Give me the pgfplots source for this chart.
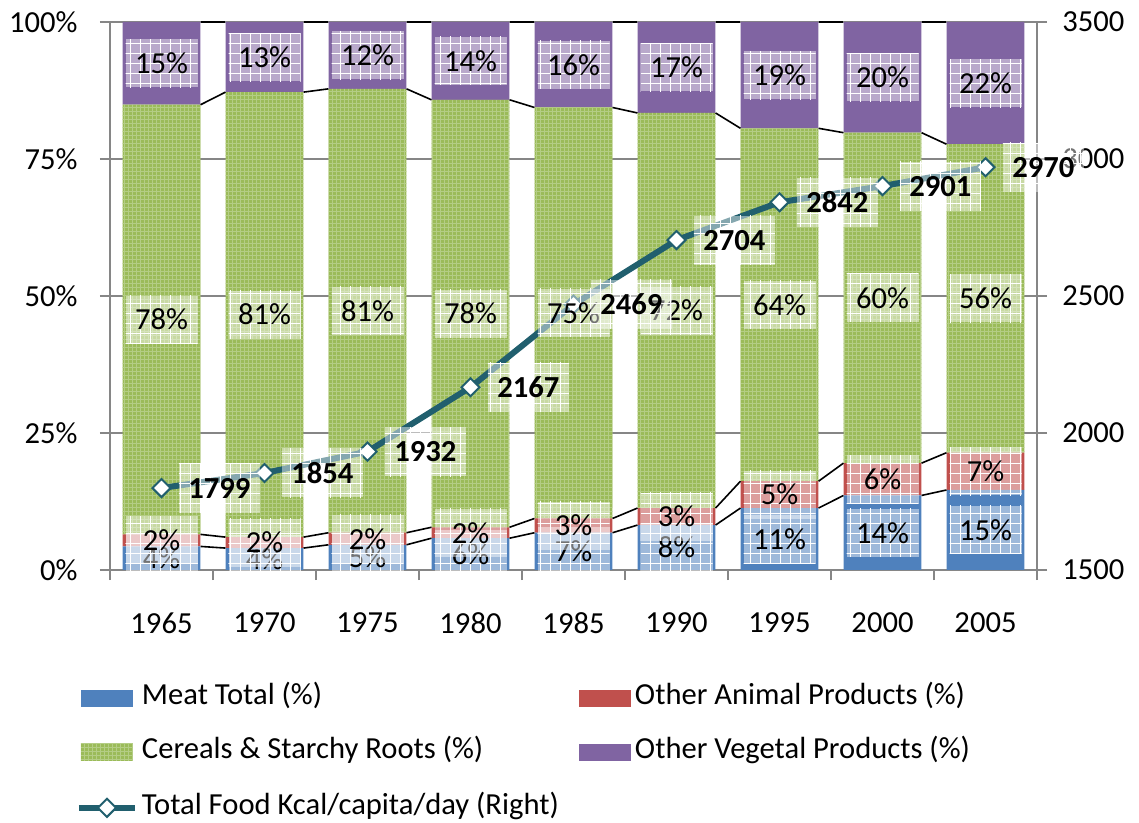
\documentclass[border=0pt]{standalone}
\usepackage{pgfplots}
\pgfplotsset{compat=1.18}
\usepackage{pgfplotstable}
\usepackage{fontspec}
\setmainfont{Carlito}
\usetikzlibrary{patterns.meta}

\definecolor{meat}{HTML}{4F81BD}
\definecolor{oth}{HTML}{C0504D}
\definecolor{cer}{HTML}{9BBB59}
\definecolor{cerlight}{HTML}{B4CD85}
\definecolor{veg}{HTML}{8064A2}
\definecolor{kcal}{HTML}{215F6E}
\definecolor{gridgray}{HTML}{868686}

\newcommand\lblfont{\fontsize{15.3}{18}\selectfont}

\pgfplotstableread{
x year meat oth cer veg kcal
0 1965 4.3 2.2 78.4 15.1 1799
1 1970 4.0 2.0 81.2 12.8 1854
2 1975 4.6 2.2 81.0 12.2 1932
3 1980 5.8 2.0 78.0 14.2 2167
4 1985 6.8 2.6 75.0 15.6 2469
5 1990 8.2 3.1 72.1 16.6 2704
6 1995 11.3 4.9 64.4 19.4 2842
7 2000 13.6 5.9 60.3 20.2 2901
8 2005 14.6 6.8 56.3 22.3 2970
}\data

\pgfplotsset{
  myaxis/.style={at={(0,0)}, anchor=south west, scale only axis,
    width=463.5pt, height=274pt, xmin=-0.5, xmax=8.5,
    /pgf/number format/assume math mode=true},
  kcalline/.style={color=kcal, line width=3pt, mark=square*, mark size=3.2pt,
    mark options={rotate=45, fill=white, draw=kcal, line width=1pt}},
  barlegend/.style={legend image code/.code={\fill[##1] (1pt,-4.25pt) rectangle (27pt,4.25pt);}},
  kcallegend/.style={legend image code/.code={%
    \draw[kcal, line width=3pt] (0pt,0pt) -- (28pt,0pt);
    \draw[kcal, fill=white, line width=1pt, rotate around={45:(14pt,0pt)}]
      (10.8pt,-3.2pt) rectangle (17.2pt,3.2pt);}},
}
\tikzset{
  lblbox/.style={fill=white, fill opacity=0.45, text opacity=1, inner sep=0pt,
    minimum width=36pt, minimum height=24pt, font=\lblfont, text=black,
    postaction={pattern={Hatch[distance=5pt, line width=0.35pt]}, pattern color=white}},
}

\begin{document}
\begin{tikzpicture}
% ---------- bars (left axis) ----------
\begin{axis}[myaxis,
  ymin=0, ymax=100,
  ybar stacked, bar width=0.757,
  xtick={0,...,8},
  xticklabels={1965,1970,1975,1980,1985,1990,1995,2000,2005},
  minor xtick={-0.5,0.5,...,8.5},
  major x tick style={draw=none},
  minor x tick style={draw=gridgray, line width=0.9pt},
  minor tick length=5pt,
  ytick={0,25,50,75,100},
  yticklabel={\pgfmathprintnumber{\tick}\%},
  tick align=outside, major tick length=5pt,
  y tick style={draw=gridgray, line width=0.9pt},
  ymajorgrids, major grid style={gridgray, line width=0.9pt},
  axis x line*=bottom, axis y line*=left,
  axis line style={gridgray, line width=0.9pt},
  ticklabel style={font=\lblfont, text=black, inner sep=0pt},
  xticklabel style={yshift=-16pt},
  yticklabel style={xshift=-11pt},
  barlegend,
  legend columns=2,
  legend cell align=left,
  legend style={at={(-0.0367,-0.219)}, anchor=north west, draw=none, fill=none,
    inner sep=0pt, outer sep=0pt, font=\lblfont, row sep=18.45pt,
    nodes={inner sep=0pt, text height=0.64em, text depth=0pt},
    /tikz/every odd column/.append style={column sep=2pt},
    /tikz/every even column/.append style={column sep=10pt}},
]
\addplot[fill=meat, draw=none] table[x=x, y=meat]{\data};
\addlegendentry{Meat Total (\%)}
\addplot[fill=oth, draw=none] table[x=x, y=oth]{\data};
\addlegendentry{Other Animal Products (\%)}
\addplot[fill=cer, draw=none, postaction={pattern={Hatch[distance=2pt, line width=0.3pt]}, pattern color=cerlight}] table[x=x, y=cer]{\data};
\addlegendentry{Cereals \& Starchy Roots (\%)}
\addplot[fill=veg, draw=none] table[x=x, y=veg]{\data};
\addlegendentry{Other Vegetal Products (\%)}
\addlegendimage{kcallegend}
\addlegendentry{Total Food Kcal/capita/day (Right)}
\end{axis}

% ---------- line (right axis) ----------
\begin{axis}[myaxis,
  ymin=1500, ymax=3500,
  ytick={1500,2000,2500,3000,3500},
  axis x line=none, axis y line*=right,
  axis line style={gridgray, line width=0.9pt},
  tick align=outside, major tick length=5pt,
  y tick style={draw=gridgray, line width=0.9pt},
  /pgf/number format/1000 sep={},
  yticklabel style={font=\lblfont, text=black, inner sep=0pt, xshift=7.5pt},
]
\addplot[kcalline] table[x=x, y=kcal]{\data};
\end{axis}

% ---------- series lines and bar labels ----------
\begin{axis}[myaxis, ymin=0, ymax=100, hide axis, clip=false]
\addplot[black, line width=0.8pt, unbounded coords=jump] coordinates {
 (0.379,4.3) (0.621,4.0) (1,nan) (1.379,4.0) (1.621,4.6) (2,nan)
 (2.379,4.6) (2.621,5.8) (3,nan) (3.379,5.8) (3.621,6.8) (4,nan)
 (4.379,6.8) (4.621,8.2) (5,nan) (5.379,8.2) (5.621,11.3) (6,nan)
 (6.379,11.3) (6.621,13.6) (7,nan) (7.379,13.6) (7.621,14.6)};
\addplot[black, line width=0.8pt, unbounded coords=jump] coordinates {
 (0.379,6.5) (0.621,6.0) (1,nan) (1.379,6.0) (1.621,6.8) (2,nan)
 (2.379,6.8) (2.621,7.8) (3,nan) (3.379,7.8) (3.621,9.4) (4,nan)
 (4.379,9.4) (4.621,11.3) (5,nan) (5.379,11.3) (5.621,16.2) (6,nan)
 (6.379,16.2) (6.621,19.5) (7,nan) (7.379,19.5) (7.621,21.4)};
\addplot[black, line width=0.8pt, unbounded coords=jump] coordinates {
 (0.379,84.9) (0.621,87.2) (1,nan) (1.379,87.2) (1.621,87.8) (2,nan)
 (2.379,87.8) (2.621,85.8) (3,nan) (3.379,85.8) (3.621,84.4) (4,nan)
 (4.379,84.4) (4.621,83.4) (5,nan) (5.379,83.4) (5.621,80.6) (6,nan)
 (6.379,80.6) (6.621,79.8) (7,nan) (7.379,79.8) (7.621,77.7)};
\addplot[black, line width=0.8pt, unbounded coords=jump] coordinates {
 (0.379,100) (0.621,100) (1,nan) (1.379,100) (1.621,100) (2,nan)
 (2.379,100) (2.621,100) (3,nan) (3.379,100) (3.621,100) (4,nan)
 (4.379,100) (4.621,100) (5,nan) (5.379,100) (5.621,100) (6,nan)
 (6.379,100) (6.621,100) (7,nan) (7.379,100) (7.621,100)};
\pgfplotsset{every node near coord/.append style={lblbox, anchor=center}}
\addplot[draw=none, mark=none, point meta=explicit,
  nodes near coords={\pgfmathprintnumber[fixed,precision=0]{\pgfplotspointmeta}\%}]
  table[x=x, y expr=\thisrow{meat}/2, meta=meat]{\data};
\addplot[draw=none, mark=none, point meta=explicit,
  nodes near coords={\pgfmathprintnumber[fixed,precision=0]{\pgfplotspointmeta}\%}]
  table[x=x, y expr=\thisrow{meat}+\thisrow{oth}/2, meta=oth]{\data};
\addplot[draw=none, mark=none, point meta=explicit,
  nodes near coords={\pgfmathprintnumber[fixed,precision=0]{\pgfplotspointmeta}\%}]
  table[x=x, y expr=\thisrow{meat}+\thisrow{oth}+\thisrow{cer}/2, meta=cer]{\data};
\addplot[draw=none, mark=none, point meta=explicit,
  nodes near coords={\pgfmathprintnumber[fixed,precision=0]{\pgfplotspointmeta}\%}]
  table[x=x, y expr=100-\thisrow{veg}/2, meta=veg]{\data};
\end{axis}

% ---------- line labels ----------
\begin{axis}[myaxis, ymin=1500, ymax=3500, hide axis, clip=false]
\addplot[draw=none, mark=none, point meta=explicit,
  nodes near coords={\bfseries\pgfmathprintnumber[fixed,precision=0,1000 sep={}]{\pgfplotspointmeta}},
  every node near coord/.append style={lblbox, anchor=west, xshift=8.5pt,
    minimum width=40.5pt, minimum height=24.5pt}]
  table[x=x, y=kcal, meta=kcal]{\data};
\end{axis}

\pgfresetboundingbox
\path[use as bounding box] (-55pt,-126.5pt) rectangle (514.5pt,285pt);
\end{tikzpicture}
\end{document}
